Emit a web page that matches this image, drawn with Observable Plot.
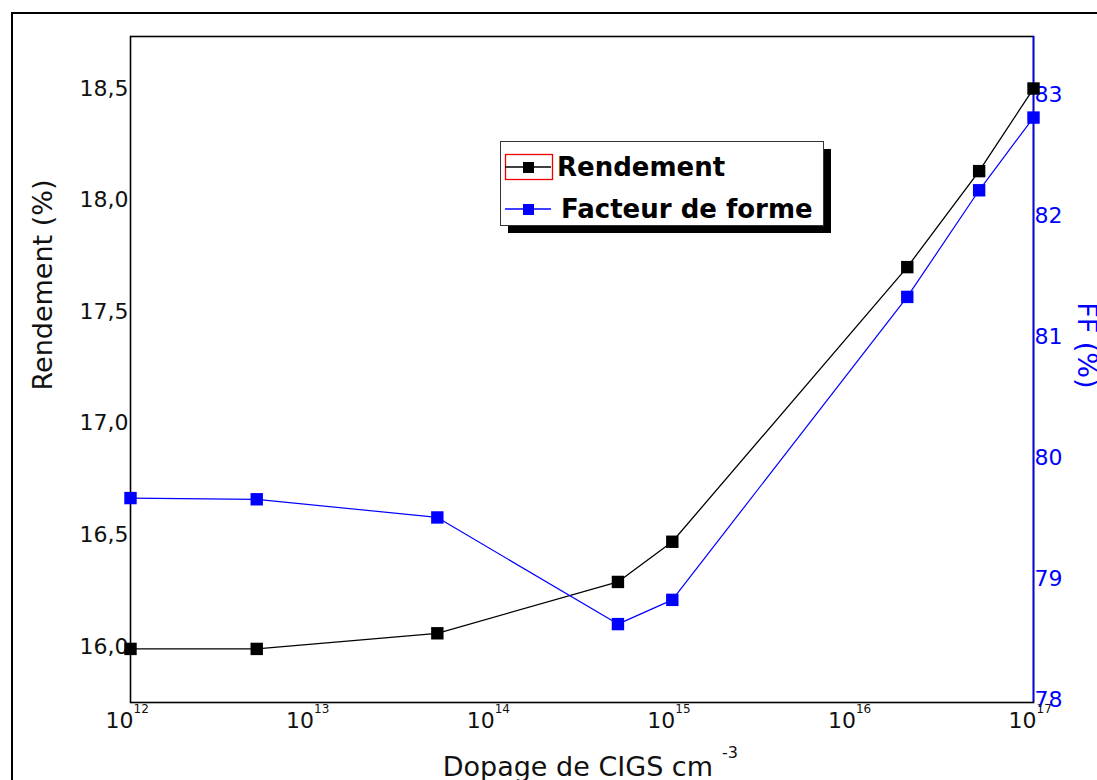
<!DOCTYPE html>
<html>
<head>
<meta charset="utf-8">
<script src="https://cdn.jsdelivr.net/npm/d3@7"></script>
<script src="https://cdn.jsdelivr.net/npm/@observablehq/plot@0.6"></script>
<style>
  html, body { margin: 0; padding: 0; background: #fff; overflow: hidden; }
  #wrap { position: relative; width: 1097px; height: 780px; overflow: hidden; }
  #page-frame { position: absolute; left: 11px; top: 12px; width: 1200px; height: 900px;
                border: 2px solid #000; box-sizing: border-box; pointer-events: none; }
  #legend { position: absolute; left: 500px; top: 141px; }
</style>
</head>
<body>
<div id="wrap">
  <div id="page-frame"></div>
  <div id="chart"></div>
  <div id="legend"></div>
</div>
<script>
// Doping level of the CIGS absorber (cm^-3)
const doping = [1e12, 5e12, 5e13, 5e14, 1e15, 2e16, 5e16, 1e17];
// Efficiency (%) — left axis
const rendement = [15.99, 15.99, 16.06, 16.29, 16.47, 17.70, 18.13, 18.50];
// Fill factor (%) — right axis
const facteurForme = [79.67, 79.66, 79.51, 78.63, 78.83, 81.33, 82.21, 82.81];

// Tick values
const xTicks = [1e12, 1e13, 1e14, 1e15, 1e16, 1e17];
const leftTicks = [16.0, 16.5, 17.0, 17.5, 18.0, 18.5];
const rightTicks = [78, 79, 80, 81, 82, 83];

// Axis domains
const leftDomain = [15.75, 18.733];
const rightDomain = [77.983, 83.479];

// Map a fill-factor value onto the left (efficiency) scale and back
const toLeft = v => leftDomain[0] + (v - rightDomain[0]) * (leftDomain[1] - leftDomain[0]) / (rightDomain[1] - rightDomain[0]);
const toRight = v => rightDomain[0] + (v - leftDomain[0]) * (rightDomain[1] - rightDomain[0]) / (leftDomain[1] - leftDomain[0]);

const rendData = doping.map((d, i) => ({x: d, y: rendement[i]}));
const ffData = doping.map((d, i) => ({x: d, y: toLeft(facteurForme[i])}));

const BLUE = "#0000ff";
const FONT = "DejaVu Sans, Arial, sans-serif";

const chart = Plot.plot({
  width: 1097,
  height: 780,
  marginLeft: 130,
  marginRight: 64,
  marginTop: 36,
  marginBottom: 78,
  style: {fontFamily: FONT, background: "transparent", overflow: "visible"},
  x: {type: "log", domain: [1e12, 1e17], axis: null},
  y: {domain: leftDomain},
  marks: [
    // Left axis: efficiency
    Plot.axisY(leftTicks, {
      anchor: "left", tickSize: 0, tickPadding: 2, label: null,
      tickFormat: d => d.toFixed(1).replace(".", ","),
      fontSize: 22, fill: "#111"
    }),
    // Right axis: fill factor
    Plot.axisY(rightTicks.map(toLeft), {
      anchor: "right", tickSize: 0, tickPadding: 1, label: null,
      tickFormat: v => String(Math.round(toRight(v))),
      fontSize: 22, fill: BLUE
    }),
    // Bottom axis: powers of ten
    Plot.text(xTicks, {
      x: d => d, frameAnchor: "bottom", text: () => "10",
      dx: -11, dy: 18, lineAnchor: "middle", fontSize: 22, fill: "#111"
    }),
    Plot.text(xTicks, {
      x: d => d, frameAnchor: "bottom", text: d => String(Math.round(Math.log10(d))),
      dx: 3, dy: 7, textAnchor: "start", lineAnchor: "middle", fontSize: 12, fill: "#111"
    }),
    // Axis titles
    Plot.text(["Rendement (%)"], {
      frameAnchor: "left", dx: -87, dy: 21, rotate: -90,
      fontSize: 27, fill: "#111"
    }),
    Plot.text(["FF (%)"], {
      frameAnchor: "right", dx: 53, dy: 19, rotate: 90,
      fontSize: 27, fill: BLUE
    }),
    Plot.text(["Dopage de CIGS cm"], {
      frameAnchor: "bottom", dx: 131, dy: 65, textAnchor: "end", lineAnchor: "middle",
      fontSize: 27, fill: "#111"
    }),
    Plot.text(["-3"], {
      frameAnchor: "bottom", dx: 140, dy: 50, textAnchor: "start", lineAnchor: "middle",
      fontSize: 16, fill: "#111"
    }),
    // Plot frame, with the right-hand side in blue
    Plot.frame({stroke: "#000", strokeWidth: 1.6}),
    Plot.ruleX([1e17], {stroke: BLUE, strokeWidth: 1.6}),
    // Series
    Plot.line(rendData, {x: "x", y: "y", stroke: "#000", strokeWidth: 1.3}),
    Plot.line(ffData, {x: "x", y: "y", stroke: BLUE, strokeWidth: 1.2}),
    Plot.dot(rendData, {x: "x", y: "y", symbol: "square", r: 7, fill: "#000", stroke: "none"}),
    Plot.dot(ffData, {x: "x", y: "y", symbol: "square", r: 7, fill: BLUE, stroke: "none"})
  ]
});
document.getElementById("chart").appendChild(chart);

// Legend box with drop shadow
const legendItems = [
  {label: "Rendement", color: "#000", selected: true},
  {label: "Facteur de forme", color: BLUE, selected: false}
];
const lg = d3.select("#legend").append("svg")
  .attr("width", 340).attr("height", 100)
  .style("font-family", FONT);
lg.append("rect").attr("x", 8).attr("y", 8).attr("width", 323).attr("height", 84).attr("fill", "#000");
lg.append("rect").attr("x", 0.5).attr("y", 0.5).attr("width", 323).attr("height", 84)
  .attr("fill", "#fff").attr("stroke", "#333").attr("stroke-width", 1);
legendItems.forEach((it, i) => {
  const cy = 26 + i * 42;
  const g = lg.append("g");
  if (it.selected) {
    g.append("rect").attr("x", 5.5).attr("y", cy - 12.5).attr("width", 47).attr("height", 25)
      .attr("fill", "none").attr("stroke", "#e00").attr("stroke-width", 1.3);
  }
  g.append("line").attr("x1", 5).attr("x2", 51).attr("y1", cy).attr("y2", cy)
    .attr("stroke", it.color).attr("stroke-width", 1.3);
  g.append("rect").attr("x", 23).attr("y", cy - 5).attr("width", 11).attr("height", 11).attr("fill", it.color);
  g.append("text").attr("x", i === 0 ? 57 : 61).attr("y", cy + 9)
    .attr("font-size", 26).attr("font-weight", "bold").attr("fill", "#000").text(it.label);
});
</script>
</body>
</html>
